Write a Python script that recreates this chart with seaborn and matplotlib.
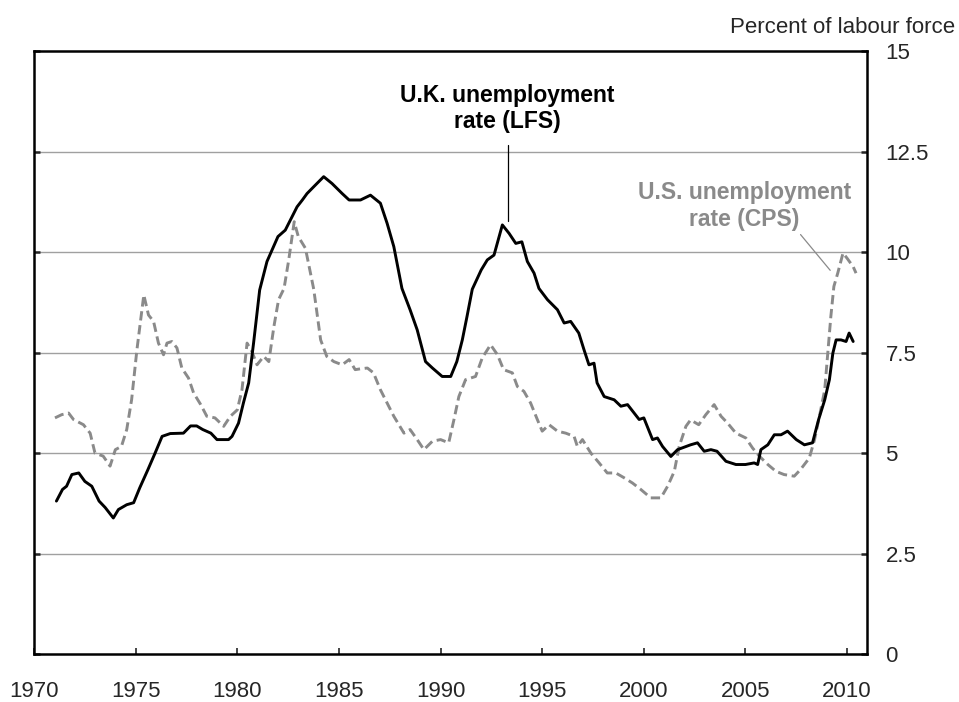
import pandas as pd
import seaborn as sns
import matplotlib.pyplot as plt

# UK unemployment rate (LFS)
uk_year = [1971.1, 1971.4, 1971.6, 1971.86, 1972.2, 1972.5, 1972.84, 1973.2, 1973.5, 1973.9,
           1974.15, 1974.56, 1974.9, 1975.2, 1975.6, 1975.96, 1976.3, 1976.7, 1977.35, 1977.7,
           1978.0, 1978.3, 1978.7, 1979.0, 1979.57, 1979.74, 1980.06, 1980.3, 1980.56, 1980.8,
           1981.1, 1981.46, 1982.0, 1982.36, 1982.94, 1983.2, 1983.43, 1983.76, 1984.25, 1984.66,
           1985.16, 1985.5, 1986.06, 1986.55, 1987.04, 1987.37, 1987.7, 1988.1, 1988.5, 1988.85,
           1989.26, 1989.6, 1990.08, 1990.5, 1990.8, 1991.07, 1991.3, 1991.56, 1992.0, 1992.3,
           1992.63, 1993.04, 1993.37, 1993.7, 1994.0, 1994.27, 1994.6, 1994.84, 1995.26, 1995.75,
           1996.08, 1996.4, 1996.8, 1997.06, 1997.3, 1997.55, 1997.7, 1998.05, 1998.54, 1998.87,
           1999.2, 1999.77, 2000.0, 2000.43, 2000.67, 2000.92, 2001.33, 2001.66, 2002.3, 2002.64,
           2002.97, 2003.3, 2003.6, 2004.04, 2004.53, 2005.0, 2005.43, 2005.6, 2005.76, 2006.1,
           2006.42, 2006.75, 2007.07, 2007.5, 2007.9, 2008.3, 2008.6, 2008.9, 2009.13, 2009.3,
           2009.46, 2009.7, 2009.95, 2010.1, 2010.3]
uk_rate = [3.81, 4.10, 4.18, 4.47, 4.51, 4.30, 4.18, 3.81, 3.65, 3.39,
           3.60, 3.72, 3.77, 4.14, 4.59, 5.01, 5.42, 5.49, 5.50, 5.68,
           5.68, 5.59, 5.50, 5.34, 5.34, 5.42, 5.75, 6.25, 6.75, 7.74,
           9.06, 9.77, 10.39, 10.55, 11.13, 11.30, 11.46, 11.63, 11.88, 11.71,
           11.46, 11.30, 11.30, 11.42, 11.22, 10.72, 10.14, 9.10, 8.57, 8.07,
           7.28, 7.12, 6.91, 6.91, 7.28, 7.82, 8.40, 9.08, 9.56, 9.81,
           9.93, 10.68, 10.47, 10.22, 10.26, 9.77, 9.48, 9.10, 8.82, 8.57,
           8.24, 8.28, 7.99, 7.57, 7.20, 7.24, 6.75, 6.41, 6.33, 6.17,
           6.21, 5.84, 5.88, 5.34, 5.38, 5.17, 4.92, 5.09, 5.21, 5.26,
           5.05, 5.09, 5.05, 4.80, 4.72, 4.72, 4.76, 4.72, 5.09, 5.21,
           5.46, 5.46, 5.55, 5.34, 5.21, 5.26, 5.84, 6.33, 6.83, 7.49,
           7.82, 7.82, 7.78, 7.99, 7.78]

# US unemployment rate (CPS)
us_year = [1971.03, 1971.36, 1971.7, 1971.94, 1972.43, 1972.76, 1973.0, 1973.4, 1973.74, 1974.0,
           1974.3, 1974.56, 1974.8, 1975.06, 1975.4, 1975.63, 1975.88, 1976.12, 1976.37, 1976.54,
           1976.78, 1977.03, 1977.27, 1977.6, 1977.85, 1978.2, 1978.5, 1978.9, 1979.33, 1979.66,
           1980.0, 1980.23, 1980.48, 1980.72, 1980.97, 1981.3, 1981.55, 1981.8, 1982.03, 1982.3,
           1982.53, 1982.8, 1983.0, 1983.35, 1983.6, 1983.76, 1984.1, 1984.4, 1984.75, 1985.16,
           1985.5, 1985.8, 1986.06, 1986.4, 1986.7, 1987.04, 1987.37, 1987.7, 1988.2, 1988.5,
           1988.85, 1989.18, 1989.6, 1990.0, 1990.4, 1990.66, 1990.9, 1991.23, 1991.72, 1992.05,
           1992.46, 1992.8, 1993.1, 1993.53, 1993.78, 1994.1, 1994.43, 1994.76, 1995.0, 1995.34,
           1995.75, 1996.16, 1996.57, 1996.73, 1996.98, 1997.4, 1997.8, 1998.2, 1998.62, 1999.03,
           1999.44, 1999.85, 2000.34, 2000.84, 2001.17, 2001.5, 2001.74, 2002.07, 2002.3, 2002.7,
           2003.05, 2003.46, 2003.8, 2004.12, 2004.53, 2005.02, 2005.35, 2005.68, 2006.1, 2006.5,
           2006.9, 2007.4, 2007.7, 2008.14, 2008.4, 2008.64, 2008.9, 2009.05, 2009.2, 2009.35,
           2009.54, 2009.8, 2010.0, 2010.3, 2010.44]
us_rate = [5.88, 5.96, 6.00, 5.84, 5.71, 5.50, 5.00, 4.93, 4.68, 5.09,
           5.17, 5.59, 6.33, 7.57, 8.94, 8.44, 8.28, 7.74, 7.45, 7.74,
           7.78, 7.62, 7.12, 6.87, 6.50, 6.21, 5.92, 5.88, 5.67, 5.92,
           6.08, 6.58, 7.74, 7.53, 7.20, 7.41, 7.28, 8.15, 8.82, 9.10,
           9.81, 10.76, 10.39, 10.10, 9.48, 9.08, 7.82, 7.41, 7.28, 7.20,
           7.33, 7.08, 7.10, 7.12, 7.00, 6.58, 6.25, 5.92, 5.50, 5.59,
           5.34, 5.09, 5.30, 5.34, 5.26, 5.84, 6.41, 6.83, 6.91, 7.37,
           7.70, 7.45, 7.08, 7.00, 6.66, 6.54, 6.25, 5.84, 5.55, 5.71,
           5.55, 5.50, 5.42, 5.17, 5.34, 5.00, 4.76, 4.51, 4.51, 4.39,
           4.26, 4.10, 3.89, 3.89, 4.18, 4.55, 5.17, 5.67, 5.83, 5.71,
           5.96, 6.21, 5.92, 5.75, 5.50, 5.38, 5.13, 4.93, 4.72, 4.55,
           4.47, 4.43, 4.59, 4.88, 5.34, 5.92, 6.58, 7.49, 8.40, 9.15,
           9.48, 9.98, 9.85, 9.64, 9.48]

x_ticks = [1970, 1975, 1980, 1985, 1990, 1995, 2000, 2005, 2010]
y_ticks = [0, 2.5, 5, 7.5, 10, 12.5, 15]
y_labels = ["0", "2.5", "5", "7.5", "10", "12.5", "15"]

uk = pd.DataFrame({"year": uk_year, "rate": uk_rate})
us = pd.DataFrame({"year": us_year, "rate": us_rate})

sns.set_style("white")
plt.rcParams["font.family"] = ["Liberation Sans", "DejaVu Sans"]

fig = plt.figure(figsize=(9.59, 7.02), dpi=100)
ax = fig.add_axes([0.0355, 0.068, 0.869, 0.859])

grey = "#8a8a8a"
for y in y_ticks[1:-1]:
    ax.axhline(y, color="#a0a0a0", lw=1.0, zorder=0)

sns.lineplot(data=us, x="year", y="rate", ax=ax, color=grey, lw=2.1, zorder=2)
ax.lines[-1].set_dashes((3.2, 1.6))
sns.lineplot(data=uk, x="year", y="rate", ax=ax, color="black", lw=2.1, zorder=3)

ax.set_xlim(1970, 2011)
ax.set_ylim(0, 15)
ax.set_xticks(x_ticks)
ax.set_yticks(y_ticks)
ax.set_yticklabels(y_labels)
ax.set_xlabel("")
ax.set_ylabel("")

for s in ax.spines.values():
    s.set_visible(True)
    s.set_color("black")
    s.set_linewidth(1.8)

ax.tick_params(axis="x", direction="in", length=4, width=1.2, labelsize=16, pad=19,
               bottom=True, top=False)
ax.tick_params(axis="y", direction="in", length=4, width=1.8, labelsize=16, pad=13,
               left=True, right=True, labelleft=False, labelright=True)

fig.text(0.996, 0.961, "Percent of labour force", ha="right", va="center", fontsize=16)

# series labels with leader lines
ax.text(1993.3, 13.58, "U.K. unemployment\nrate (LFS)", ha="center", va="center",
        fontsize=16.5, fontweight="bold", color="black")
ax.plot([1993.3, 1993.3], [12.66, 10.77], color="black", lw=0.9)
ax.text(2004.96, 11.15, "U.S. unemployment\nrate (CPS)", ha="center", va="center",
        fontsize=16.5, fontweight="bold", color=grey)
ax.plot([2007.71, 2009.17], [10.44, 9.55], color=grey, lw=0.9)

plt.savefig("out.png", dpi=100)
